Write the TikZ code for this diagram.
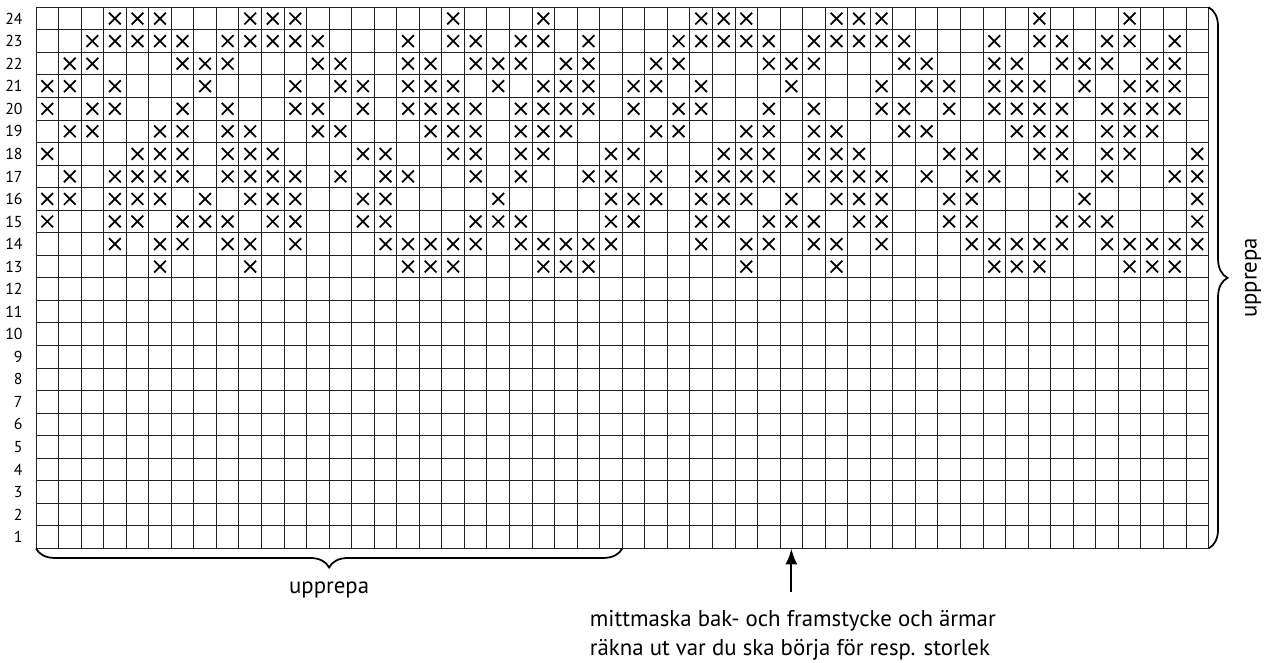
\documentclass[tikz,border=0pt]{standalone}
\usepackage{fontspec}
\setmainfont{PT Sans}
\usepackage{tikz}
\usetikzlibrary{arrows.meta, decorations.pathreplacing}
\definecolor{rutgra}{RGB}{35,35,35}

\tikzset{
  ruta/.style={line width=0.6pt, rutgra},
  kryss/.pic={\draw[line width=1.1pt, black] (-0.26,-0.26) -- (0.26,0.26) (-0.26,0.26) -- (0.26,-0.26);},
  klammer/.style={decorate, line width=1.1pt, decoration={brace, amplitude=12pt}},
  radnr/.style={anchor=east, inner sep=0pt, font=\fontsize{10}{11}\selectfont},
  etikett/.style={font=\fontsize{14.4}{17.7}\selectfont}
}

\begin{document}
\begin{tikzpicture}[x=0.5cm, y=0.5cm]
  \useasboundingbox (-1.596,-5.055) rectangle (54.86,24.324);
  % rutnät
  \foreach \i in {0,...,52} \draw[ruta] (\i,0) -- (\i,24);
  \foreach \j in {0,...,24} \draw[ruta] (0,\j) -- (52,\j);
  % radnummer
  \foreach \r in {1,...,24} \node[radnr] (rad\r) at (-0.58,\r-0.5) {\r};
  % mönstret, 26 maskor, två gånger
  \foreach \rad/\kol in {
      24/{4,5,6,10,11,12,19,23},
      23/{3,4,5,6,7,9,10,11,12,13,17,19,20,22,23,25},
      22/{2,3,7,8,9,13,14,17,18,20,21,22,24,25},
      21/{1,2,4,8,12,14,15,17,18,19,21,23,24,25},
      20/{1,3,4,7,9,12,13,15,17,18,19,20,22,23,24,25},
      19/{2,3,6,7,9,10,13,14,18,19,20,22,23,24},
      18/{1,5,6,7,9,10,11,15,16,19,20,22,23,26},
      17/{2,4,5,6,7,9,10,11,12,14,16,17,20,22,25,26},
      16/{1,2,4,5,6,8,10,11,12,15,16,21,26},
      15/{1,4,5,7,8,9,11,12,15,16,20,21,22,26},
      14/{4,6,7,9,10,12,16,17,18,19,20,22,23,24,25,26},
      13/{6,10,17,18,19,23,24,25}} {
    \foreach \k in \kol {
      \foreach \rep in {0,26}
        \pic at (\k+\rep-0.5,\rad-0.5) {kryss};
    }
  }
  % klamrar
  \coordinate (nedV) at (0,0);
  \coordinate (nedH) at (26,0);
  \coordinate (hogOver) at (52,24);
  \coordinate (hogUnder) at (52,0);
  \draw[klammer] (nedH) -- (nedV);
  \draw[klammer] (hogOver) -- (hogUnder);
  \node[etikett, anchor=base] (upprepaNed) at (13,-2.0) {upprepa};
  \node[etikett, rotate=90] (upprepaHog) at (53.97,12) {upprepa};
  % pil till mittmaskan
  \coordinate (mitt) at (33.5,0);
  \coordinate (pilfot) at (33.5,-1.95);
  \draw[line width=1.4pt, -{Latex[length=10pt, width=7.5pt]}] (pilfot) -- (mitt);
  \node[etikett, anchor=north west, align=left, inner sep=0pt] (info) at (24.55,-2.75)
    {mittmaska bak- och framstycke och ärmar\\räkna ut var du ska börja för resp. storlek};
\end{tikzpicture}
\end{document}
